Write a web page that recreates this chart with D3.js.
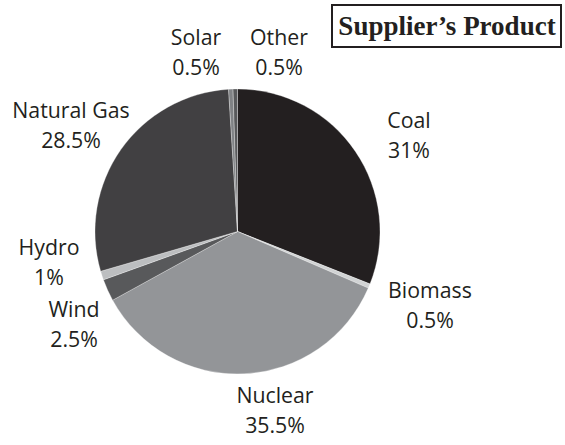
<!DOCTYPE html>
<html><head><meta charset="utf-8">
<script src="https://cdn.jsdelivr.net/npm/d3@7"></script>
<style>html,body{margin:0;padding:0;background:#fff;}svg{display:block;}</style>
</head><body>
<svg id="chart" width="565" height="445"></svg>
<script>
const categories = ["Coal","Biomass","Nuclear","Wind","Hydro","Natural Gas","Solar","Other"];
const values = [31, 0.5, 35.5, 2.5, 1, 28.5, 0.5, 0.5];
const valueLabels = ["31%","0.5%","35.5%","2.5%","1%","28.5%","0.5%","0.5%"];
const colors = ["#231f20","#d1d3d4","#939598","#58595b","#bcbec0","#414042","#808285","#58595b"];
const labelPos = [[409,128],[430,298],[275,403],[74,317],[49,255],[71,118],[196,45],[279,45]];
const title = "Supplier\u2019s Product";

const svg = d3.select("#chart");
const cx = 237.5, cy = 231.5, r = 142.5;
const pie = d3.pie().sort(null).value(d => d)(values);
const arc = d3.arc().innerRadius(0).outerRadius(r);
const g = svg.append("g").attr("transform", `translate(${cx},${cy})`);
g.selectAll("path").data(pie).join("path")
  .attr("d", arc)
  .attr("fill", (d,i) => colors[i])
  .attr("stroke", "#ffffff").attr("stroke-width", 0.3);

const lab = svg.append("g").attr("font-family", "'Open Sans', sans-serif")
  .attr("font-size", 21.3).attr("fill", "#231f20").attr("text-anchor", "middle");
categories.forEach((c, i) => {
  const t = lab.append("text").attr("x", labelPos[i][0]).attr("y", labelPos[i][1]);
  t.append("tspan").attr("x", labelPos[i][0]).text(c);
  t.append("tspan").attr("x", labelPos[i][0]).attr("dy", 30).text(valueLabels[i]);
});

svg.append("rect").attr("x", 332).attr("y", 5).attr("width", 229).attr("height", 42)
  .attr("fill", "#fff").attr("stroke", "#231f20").attr("stroke-width", 2);
svg.append("text").attr("x", 447).attr("y", 35).attr("text-anchor", "middle")
  .attr("font-family", "'Liberation Serif', 'Times New Roman', serif")
  .attr("font-weight", "bold").attr("font-size", 27).attr("fill", "#231f20").text(title);
</script>
</body></html>
